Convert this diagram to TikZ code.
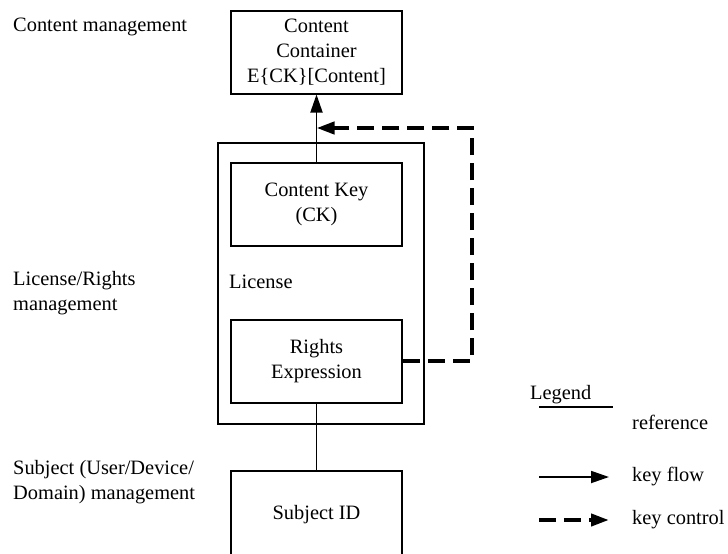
\documentclass[tikz,border=0pt]{standalone}
\usepackage{fontspec}
\setmainfont{Liberation Serif}
\usetikzlibrary{arrows.meta,calc}

\begin{document}
\begin{tikzpicture}[x=1pt, y=-1pt,
                    every node/.style={font=\fontsize{20.4}{25}\selectfont},
                    box_node/.style={draw=black, line width=2pt, minimum width=171pt, minimum height=83pt, align=center, inner sep=0pt},
                    side_text/.style={anchor=west, align=left, inner sep=0pt},
                    ref_line/.style={line width=1.8pt},
                    flow_line/.style={line width=1.8pt, -{Triangle[length=18pt,width=12pt]}},
                    control_line/.style={line width=4pt, dash pattern=on 17pt off 8pt, -{Triangle[length=18pt,width=12pt]}}
                ]
                    \useasboundingbox (0,0) rectangle (728,554);

                    % management levels
                    \node[side_text] (cm_text) at (13,27) {Content management};
                    \node[side_text] (lm_text) at (13,293) {License/Rights\\management};
                    \node[side_text] (sm_text) at (13,482) {Subject (User/Device/\\Domain) management};

                    % boxes
                    \node[box_node] (cc) at (316.5,52) {Content\\Container\\E\{CK\}[Content]};
                    \node[draw=black, line width=2pt, minimum width=206pt, minimum height=281pt] (license) at (321,283.5) {};
                    \node[box_node] (ck) at (316.5,204) {Content Key\\(CK)};
                    \node[side_text] (license_text) at (229,282) {License};
                    \node[box_node] (re) at (316.5,361) {Rights\\Expression};
                    \node[box_node, minimum height=88pt] (sid) at (316.5,515) {Subject ID};

                    % connectors
                    \draw[flow_line] (ck.north) -- (cc.south);
                    \coordinate (join) at ($(ck.north)!0.5!(cc.south)$);
                    \draw[control_line] (re.east) -- ++(69,0) |- (join);
                    \draw[ref_line] (re.south) -- (sid.north);

                    % legend
                    \node[side_text] (legend_text) at (530,395) {Legend};
                    \coordinate (ref_a) at (539,407);
                    \coordinate (ref_b) at (613,407);
                    \draw[ref_line] (ref_a) -- (ref_b);
                    \node[side_text] (ref_text) at (632,422) {reference};
                    \coordinate (flow_a) at (539,477);
                    \coordinate (flow_b) at (609,477);
                    \draw[flow_line] (flow_a) -- (flow_b);
                    \node[side_text] (flow_text) at (632,477) {key flow};
                    \coordinate (ctrl_a) at (539,520);
                    \coordinate (ctrl_b) at (609,520);
                    \draw[control_line] (ctrl_a) -- (ctrl_b);
                    \node[side_text] (ctrl_text) at (632,520) {key control};
                \end{tikzpicture}
\end{document}
